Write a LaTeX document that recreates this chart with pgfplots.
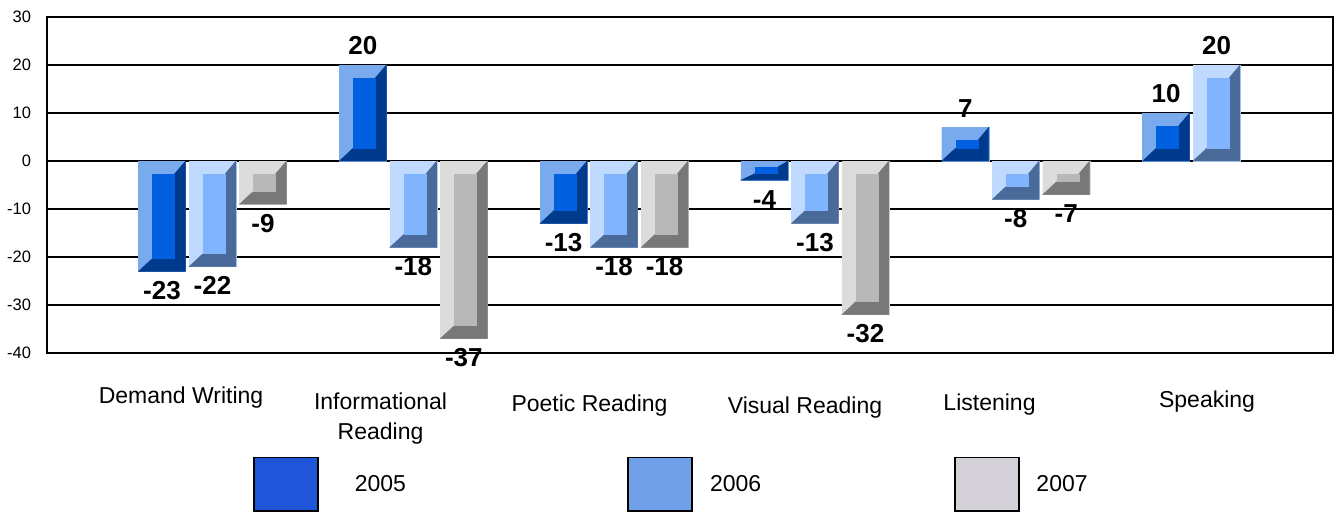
\documentclass[border=0pt]{standalone}
\usepackage{pgfplots}
\pgfplotsset{compat=1.18}
\usepackage{pgfplotstable}
\usepackage{fontspec}
\setmainfont{Liberation Sans}

\definecolor{c5l}{RGB}{122,170,238}
\definecolor{c5f}{RGB}{0,96,224}
\definecolor{c5d}{RGB}{0,58,140}
\definecolor{c6l}{RGB}{192,218,255}
\definecolor{c6f}{RGB}{128,180,255}
\definecolor{c6d}{RGB}{74,106,154}
\definecolor{c7l}{RGB}{220,220,220}
\definecolor{c7f}{RGB}{184,184,184}
\definecolor{c7d}{RGB}{120,120,120}
\definecolor{leg5}{RGB}{31,85,216}
\definecolor{leg6}{RGB}{112,160,232}
\definecolor{leg7}{RGB}{212,208,216}

\pgfplotstableread{
x y
0 -23
1 20
2 -13
3 -4
4 7
5 10
}\tA
\pgfplotstableread{
x y
0 -22
1 -18
2 -18
3 -13
4 -8
5 20
}\tB
\pgfplotstableread{
x y
0 -9
1 -37
2 -18
3 -32
4 -7
}\tC

\pgfdeclareplotmark{emptymark}{}

% bevelled bar drawn around the data point (uses \rawy, 4.8pt per unit)
\newcommand\bevelbar[4]{%
  \pgfmathsetmacro\hh{\rawy*4.8}%
  \pgfmathsetmacro\tp{max(0,-\hh)}%
  \pgfmathsetmacro\bt{min(0,-\hh)}%
  \pgfmathsetmacro\dv{min(13,max(1,(abs(\hh)-6)/2))}%
  \pgfmathsetmacro\Lx{#1-23.5}%
  \pgfmathsetmacro\Rx{#1+23.5}%
  \pgfmathsetmacro\Li{\Lx+14}%
  \pgfmathsetmacro\Ri{\Rx-11}%
  \pgfmathsetmacro\Bi{\bt+\dv}%
  \pgfmathsetmacro\Ti{\tp-\dv}%
  \fill[#2] (\Lx pt,\bt pt) rectangle (\Rx pt,\tp pt);
  \fill[#4] (\Rx pt,\tp pt) -- (\Rx pt,\bt pt) -- (\Lx pt,\bt pt) -- (\Li pt,\Bi pt)
      -- (\Ri pt,\Bi pt) -- (\Ri pt,\Ti pt) -- cycle;
  \fill[#3] (\Li pt,\Bi pt) rectangle (\Ri pt,\Ti pt);
}

\pgfplotsset{
  bevel/.style n args={4}{
    scatter, only marks, mark=emptymark, point meta=y, forget plot,
    visualization depends on={rawy \as \rawy},
    scatter/@pre marker code/.code={\bevelbar{#1}{#2}{#3}{#4}},
    scatter/@post marker code/.code={},
  },
  baseb/.style n args={2}{
    ybar, bar width=47pt, bar shift=#1, fill=#2, draw=none, forget plot,
  },
  lbl/.style={
    ybar, bar width=47pt, bar shift=#1, fill=none, draw=none, forget plot,
    point meta=y, nodes near coords, nodes near coords align={vertical},
    every node near coord/.append style={font=\fontsize{26}{30}\selectfont\bfseries,
      inner ysep=10pt, inner xsep=0pt, text=black, xshift=#1},
  },
}

\begin{document}
\begin{tikzpicture}
\path[use as bounding box] (0,0) rectangle (1336pt,-512pt);
\begin{axis}[
  at={(47pt,-353pt)}, anchor=south west,
  scale only axis, width=1286pt, height=336pt,
  xmin=-0.82420, xmax=5.58018, ymin=-40, ymax=30,
  ytick={-40,-30,-20,-10,0,10,20,30},
  ymajorgrids, grid style={black, line width=1.2pt},
  axis line style={black, line width=1.2pt},
  major tick length=0pt,
  clip=false,
  /pgf/number format/assume math mode=true,
  yticklabel style={font=\fontsize{16.5}{18}\selectfont, anchor=east, xshift=-12.5pt},
  xtick={-0.1569,0.8367,1.8775,2.9507,3.8695,4.9527},
  xticklabels={
    Demand Writing,
    {\raisebox{-6pt}{\begin{tabular}[t]{@{}c@{}}Informational\\Reading\end{tabular}}},
    {\raisebox{-8pt}{Poetic Reading}},
    {\raisebox{-10pt}{Visual Reading}},
    {\raisebox{-7pt}{Listening}},
    {\raisebox{-4pt}{Speaking}}},
  xticklabel style={font=\fontsize{23}{30}\selectfont, anchor=base, yshift=-50pt},
  legend columns=3,
  legend cell align=left,
  legend style={draw=none, fill=none, inner sep=0pt, outer sep=0pt, column sep=0pt,
    font=\fontsize{23}{27}\selectfont, nodes={inner sep=0pt},
    at={(axis description cs:0.16038,-0.3906)}, anchor=west},
]
\addplot[baseb={-50.5pt}{c5l}] table[x=x,y=y] {\tA};
\addplot[baseb={0pt}{c6l}] table[x=x,y=y] {\tB};
\addplot[baseb={50.5pt}{c7l}] table[x=x,y=y] {\tC};

\addplot[bevel={-50.5}{c5l}{c5f}{c5d}] table[x=x,y=y] {\tA};
\addplot[bevel={0}{c6l}{c6f}{c6d}] table[x=x,y=y] {\tB};
\addplot[bevel={50.5}{c7l}{c7f}{c7d}] table[x=x,y=y] {\tC};

\addplot[lbl={-50.5pt}] table[x=x,y=y] {\tA};
\addplot[lbl={0pt}] table[x=x,y=y] {\tB};
\addplot[lbl={50.5pt}] table[x=x,y=y] {\tC};

\addlegendimage{legend image code/.code={\draw[fill=leg5,draw=black,line width=1.5pt] (0pt,-26.75pt) rectangle (64pt,26.75pt);}}
\addlegendentry{\hspace{36pt}2005\hspace{221.4pt}\null}
\addlegendimage{legend image code/.code={\draw[fill=leg6,draw=black,line width=1.5pt] (0pt,-26.75pt) rectangle (64pt,26.75pt);}}
\addlegendentry{\hspace{17.25pt}2006\hspace{193pt}\null}
\addlegendimage{legend image code/.code={\draw[fill=leg7,draw=black,line width=1.5pt] (0pt,-26.75pt) rectangle (64pt,26.75pt);}}
\addlegendentry{\hspace{16.75pt}2007}
\end{axis}
\end{tikzpicture}
\end{document}
